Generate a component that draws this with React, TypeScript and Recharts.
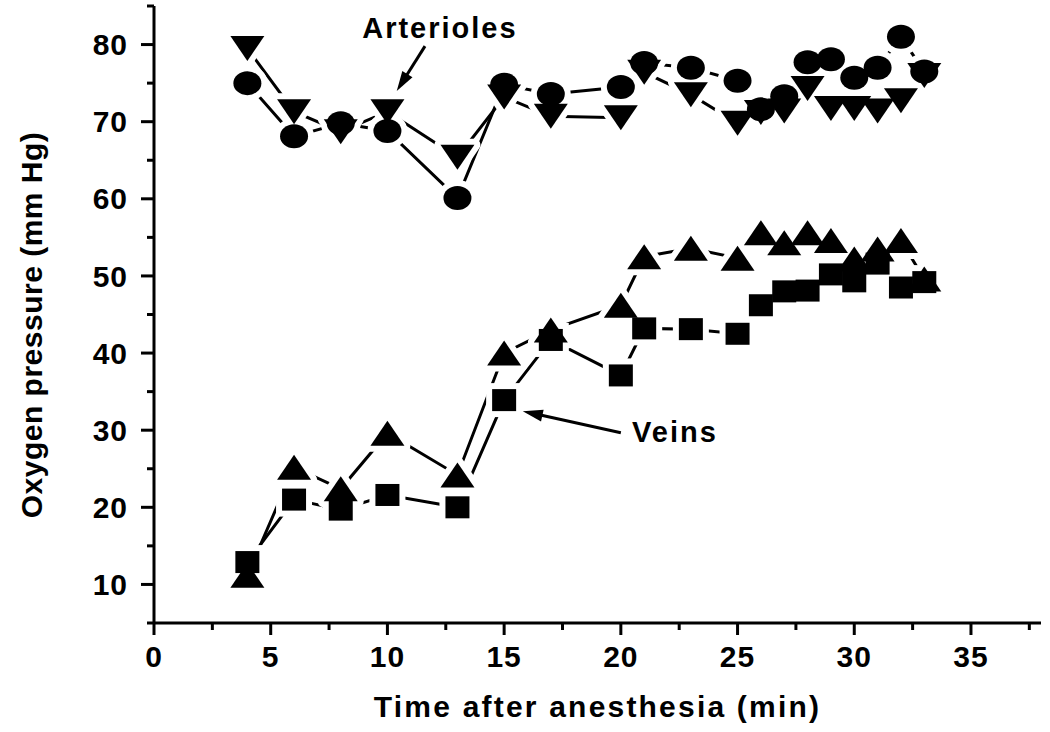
import React from 'react';
import {
  ComposedChart, Line, Scatter, XAxis, YAxis, ReferenceLine, ReferenceDot,
} from 'recharts';

// ---- data ----
const times = [4, 6, 8, 10, 13, 15, 17, 20, 21, 23, 25, 26, 27, 28, 29, 30, 31, 32, 33];
const arteriolesCircle = [75.0, 68.1, 69.8, 68.8, 60.1, 74.8, 73.6, 74.5, 77.6, 77.0, 75.3, 71.6, 73.3, 77.7, 78.1, 75.7, 77.0, 81.0, 76.5];
const arteriolesTriangle = [79.5, 71.3, 68.7, 71.3, 65.4, 73.2, 70.7, 70.5, 76.4, 73.5, 69.8, 71.2, 71.4, 74.3, 71.7, 71.7, 71.4, 72.7, 76.0];
const veinsTriangle = [11.2, 25.2, 22.4, 29.6, 24.2, 40.0, 43.0, 46.2, 52.5, 53.6, 52.3, 55.6, 54.3, 55.6, 54.6, 52.2, 53.5, 54.6, 49.6];
const veinsSquare = [12.9, 21.0, 19.7, 21.6, 20.0, 33.9, 41.7, 37.1, 43.2, 43.1, 42.5, 46.2, 48.0, 48.1, 50.2, 49.3, 51.6, 48.5, 49.2];

const xMajorTicks = [0, 5, 10, 15, 20, 25, 30, 35];
const xMinorTicks = [2.5, 7.5, 12.5, 17.5, 22.5, 27.5, 32.5, 37.5];
const yMajorTicks = [10, 20, 30, 40, 50, 60, 70, 80];
const yMinorTicks = [5, 15, 25, 35, 45, 55, 65, 75, 85];

const xTitle = 'Time after anesthesia (min)';
const yTitle = 'Oxygen pressure (mm Hg)';
const arteriolesLabel = 'Arterioles';
const veinsLabel = 'Veins';
const arteriolesLabelPos = { x: 12.25, y: 80.9 };
const veinsLabelPos = { x: 22.32, y: 28.44 };
const arteriolesArrow = [{ x: 11.61, y: 79.8 }, { x: 10.4, y: 73.97 }];
const veinsArrow = [{ x: 20.0, y: 29.66 }, { x: 15.8, y: 32.46 }];

const toPoints = (vals: number[]) => vals.map((v, i) => ({ x: times[i], y: v }));
const sCircle = toPoints(arteriolesCircle);
const sDown = toPoints(arteriolesTriangle);
const sUp = toPoints(veinsTriangle);
const sSquare = toPoints(veinsSquare);

// ---- styling ----
const FONT = '"Liberation Sans", Arial, Helvetica, sans-serif';
const TICK_SIZE = 13;
const TICK_MARGIN_Y = 13;
const TICK_MARGIN_X = 10;

type ShapeKind = 'circle' | 'down' | 'up' | 'square';

const drawShape = (kind: ShapeKind, cx: number, cy: number, fill: string, stroke: string, sw: number) => {
  if (cx == null || cy == null) return <g />;
  if (kind === 'circle') return <ellipse cx={cx} cy={cy} rx={14} ry={12} fill={fill} stroke={stroke} strokeWidth={sw} />;
  if (kind === 'square') return <rect x={cx - 12} y={cy - 11} width={24} height={22} fill={fill} stroke={stroke} strokeWidth={sw} />;
  if (kind === 'down')
    return <polygon points={`${cx - 17},${cy - 12.5} ${cx + 17},${cy - 12.5} ${cx},${cy + 12.5}`} fill={fill} stroke={stroke} strokeWidth={sw} strokeLinejoin="round" />;
  return <polygon points={`${cx - 17},${cy + 12.5} ${cx + 17},${cy + 12.5} ${cx},${cy - 12.5}`} fill={fill} stroke={stroke} strokeWidth={sw} strokeLinejoin="round" />;
};

const marker = (kind: ShapeKind) => (p: any) => drawShape(kind, p.cx, p.cy, '#000', 'none', 0);
const halo = (kind: ShapeKind) => (p: any) => drawShape(kind, p.cx, p.cy, '#fff', '#fff', 12);

const YTick = (props: any) => {
  const { x, y, payload } = props;
  const v = payload.value;
  const major = yMajorTicks.includes(v);
  const axisX = x + TICK_SIZE + TICK_MARGIN_Y;
  return (
    <g>
      <line x1={axisX - (major ? 13 : 7)} x2={axisX} y1={y} y2={y} stroke="#000" strokeWidth={3} />
      {major && (
        <text x={x} y={y} dy="0.355em" textAnchor="end" fontFamily={FONT} fontWeight="bold" fontSize={30} letterSpacing={1} fill="#000">
          {v}
        </text>
      )}
    </g>
  );
};

const XTick = (props: any) => {
  const { x, y, payload } = props;
  const v = payload.value;
  const major = xMajorTicks.includes(v);
  const axisY = y - TICK_SIZE - TICK_MARGIN_X;
  return (
    <g>
      <line x1={x} x2={x} y1={axisY} y2={axisY + (major ? 12 : 7)} stroke="#000" strokeWidth={3} />
      {major && (
        <text x={x} y={y} dy="0.71em" textAnchor="middle" fontFamily={FONT} fontWeight="bold" fontSize={30} letterSpacing={1} fill="#000">
          {v}
        </text>
      )}
    </g>
  );
};

const Arrow = (props: any) => {
  const { x1, y1, x2, y2 } = props;
  const dx = x2 - x1;
  const dy = y2 - y1;
  const len = Math.sqrt(dx * dx + dy * dy) || 1;
  const ux = dx / len;
  const uy = dy / len;
  const headLen = 20;
  const headHalf = 6;
  const bx = x2 - ux * headLen;
  const by = y2 - uy * headLen;
  const px = -uy;
  const py = ux;
  return (
    <g>
      <line x1={x1} y1={y1} x2={bx + ux * 2} y2={by + uy * 2} stroke="#000" strokeWidth={3} />
      <polygon
        points={`${x2},${y2} ${bx + px * headHalf},${by + py * headHalf} ${bx - px * headHalf},${by - py * headHalf}`}
        fill="#000"
      />
    </g>
  );
};

const textShape = (label: string) => (p: any) => (
  <text x={p.cx} y={p.cy} textAnchor="middle" fontFamily={FONT} fontWeight="bold" fontSize={29} letterSpacing={2} fill="#000">
    {label}
  </text>
);

export default function App() {
  return (
    <div style={{ position: 'absolute', left: 0, top: 0, width: 1050, height: 732, background: '#fff' }}>
      <ComposedChart width={1050} height={732} margin={{ top: 6, right: 9, left: 0, bottom: 0 }}>
        <XAxis
          type="number"
          dataKey="x"
          domain={[0, 38]}
          ticks={[...xMajorTicks, ...xMinorTicks].sort((a, b) => a - b)}
          interval={0}
          height={109}
          tickSize={TICK_SIZE}
          tickMargin={TICK_MARGIN_X}
          tickLine={false}
          axisLine={{ stroke: '#000', strokeWidth: 3 }}
          tick={<XTick />}
          allowDataOverflow
          label={{
            content: (lp: any) => {
              const vb = lp.viewBox || {};
              return (
                <text x={vb.x + vb.width / 2} y={717} textAnchor="middle" fontFamily={FONT} fontWeight="bold" fontSize={30} letterSpacing={2.2} fill="#000">
                  {xTitle}
                </text>
              );
            },
          }}
        />
        <YAxis
          type="number"
          dataKey="y"
          domain={[5, 85]}
          ticks={[...yMajorTicks, ...yMinorTicks].sort((a, b) => a - b)}
          interval={0}
          width={154}
          tickSize={TICK_SIZE}
          tickMargin={TICK_MARGIN_Y}
          tickLine={false}
          axisLine={{ stroke: '#000', strokeWidth: 3 }}
          tick={<YTick />}
          allowDataOverflow
          label={{
            content: (lp: any) => {
              const vb = lp.viewBox || {};
              const cx = 31;
              const cy = 325;
              return (
                <text x={cx} y={cy} transform={`rotate(-90 ${cx} ${cy})`} textAnchor="middle" dy="0.355em" fontFamily={FONT} fontWeight="bold" fontSize={30} letterSpacing={0.5} fill="#000">
                  {yTitle}
                </text>
              );
            },
          }}
        />

        <Line data={sCircle} dataKey="y" stroke="#000" strokeWidth={3} dot={false} isAnimationActive={false} type="linear" />
        <Line data={sDown} dataKey="y" stroke="#000" strokeWidth={3} dot={false} isAnimationActive={false} type="linear" />
        <Line data={sUp} dataKey="y" stroke="#000" strokeWidth={3} dot={false} isAnimationActive={false} type="linear" />
        <Line data={sSquare} dataKey="y" stroke="#000" strokeWidth={3} dot={false} isAnimationActive={false} type="linear" />

        <Scatter data={sCircle} dataKey="y" shape={halo('circle')} isAnimationActive={false} />
        <Scatter data={sDown} dataKey="y" shape={halo('down')} isAnimationActive={false} />
        <Scatter data={sUp} dataKey="y" shape={halo('up')} isAnimationActive={false} />
        <Scatter data={sSquare} dataKey="y" shape={halo('square')} isAnimationActive={false} />

        <Scatter data={sCircle} dataKey="y" shape={marker('circle')} isAnimationActive={false} />
        <Scatter data={sDown} dataKey="y" shape={marker('down')} isAnimationActive={false} />
        <Scatter data={sUp} dataKey="y" shape={marker('up')} isAnimationActive={false} />
        <Scatter data={sSquare} dataKey="y" shape={marker('square')} isAnimationActive={false} />

        <ReferenceLine segment={arteriolesArrow} shape={Arrow} ifOverflow="visible" />
        <ReferenceLine segment={veinsArrow} shape={Arrow} ifOverflow="visible" />
        <ReferenceDot x={arteriolesLabelPos.x} y={arteriolesLabelPos.y} r={1} shape={textShape(arteriolesLabel)} ifOverflow="visible" />
        <ReferenceDot x={veinsLabelPos.x} y={veinsLabelPos.y} r={1} shape={textShape(veinsLabel)} ifOverflow="visible" />
      </ComposedChart>
    </div>
  );
}
